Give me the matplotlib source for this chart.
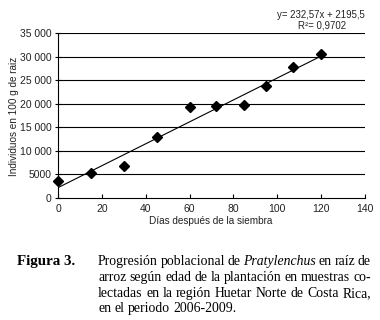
import matplotlib
matplotlib.use("Agg")
import matplotlib.pyplot as plt
import numpy as np

# ── datos ──────────────────────────────────────────────────────────────
dias = [0, 15, 30, 45, 60, 72, 85, 95, 107, 120]
individuos = [3650, 5250, 6800, 13000, 19250, 19450, 19650, 23800, 27750, 30650]
pendiente = 232.57
intercepto = 2195.5
r2 = "0,9702"

y_ticks = [0, 5000, 10000, 15000, 20000, 25000, 30000, 35000]
y_tick_labels = ["0", "5000", "10 000", "15 000", "20 000", "25 000", "30 000", "35 000"]
x_ticks = [0, 20, 40, 60, 80, 100, 120, 140]

caption_lines = [
    [("Progresión", ""), ("poblacional", ""), ("de", ""), ("Pratylenchus", "italic"),
     ("en", ""), ("raíz", ""), ("de", "")],
    [("arroz", ""), ("según", ""), ("edad", ""), ("de", ""), ("la", ""),
     ("plantación", ""), ("en", ""), ("muestras", ""), ("co-", "")],
    [("lectadas", ""), ("en", ""), ("la", ""), ("región", ""), ("Huetar", ""),
     ("Norte", ""), ("de", ""), ("Costa", ""), ("Rica,", "")],
    [("en", ""), ("el", ""), ("periodo", ""), ("2006-2009.", "")],
]

W, H = 380, 320
SANS = "Liberation Sans"
SERIF = "Liberation Serif"
TXT = "#222222"

fig = plt.figure(figsize=(W / 100, H / 100), dpi=100)
ax = fig.add_axes([58 / W, 1 - 198 / H, (365 - 58) / W, (198 - 33) / H])

# líneas de cuadrícula horizontales
for yv in y_ticks[1:]:
    ax.axhline(yv, color="black", linewidth=0.8, zorder=1)

ax.plot(dias, individuos, linestyle="none", marker="D", markersize=4.6,
        color="black", zorder=3, clip_on=False)
xf = np.array([dias[0], dias[-1]])
ax.plot(xf, pendiente * xf + intercepto, color="black", linewidth=0.8, zorder=2)

ax.set_xlim(0, 140)
ax.set_ylim(0, 35000)
ax.set_xticks(x_ticks)
ax.set_xticklabels([str(t) for t in x_ticks], fontsize=7.5, family=SANS, color=TXT)
ax.set_yticks(y_ticks)
ax.set_yticklabels(y_tick_labels, fontsize=7.5, family=SANS, color=TXT)
ax.tick_params(axis="x", direction="in", length=3, width=0.8, pad=4)
ax.tick_params(axis="y", direction="inout", length=5, width=0.8, pad=2)
for s in ("top", "right"):
    ax.spines[s].set_visible(False)
for s in ("left", "bottom"):
    ax.spines[s].set_linewidth(0.8)

fig.text(211 / W, 1 - 221 / H, "Días después de la siembra", ha="center", va="center",
         fontsize=7.2, family=SANS, color=TXT)
fig.text(14 / W, 1 - 116 / H, "Individuos en 100 g de raiz", ha="center", va="center",
         rotation=90, fontsize=7.2, family=SANS, color=TXT)

fig.text(321 / W, 1 - 15 / H, f"y= {pendiente:.2f}x + {intercepto:.1f}".replace(".", ","),
         ha="center", va="center", fontsize=6.9, family=SANS, color=TXT)
fig.text(322 / W, 1 - 25 / H, f"R²= {r2}", ha="center", va="center",
         fontsize=6.9, family=SANS, color=TXT)

# ── pie de figura (justificado) ────────────────────────────────────────
CAP_SIZE = 9.9
line_base = [265, 281, 297, 312]
fig.text(17 / W, 1 - line_base[0] / H, "Figura 3.", ha="left", va="baseline",
         fontsize=10.8, family=SERIF, weight="bold")

left_px, right_px = 98, 371
renderer = fig.canvas.get_renderer()
for i, words in enumerate(caption_lines):
    texts = []
    for w, style in words:
        t = fig.text(0, 1 - line_base[i] / H, w, ha="left", va="baseline",
                     fontsize=CAP_SIZE, family=SERIF, style=style or "normal")
        texts.append(t)
    widths = [t.get_window_extent(renderer).width for t in texts]
    if i < len(caption_lines) - 1:
        gap = (right_px - left_px - sum(widths)) / (len(words) - 1)
    else:
        gap = CAP_SIZE * 0.35
    x = left_px
    for t, wd in zip(texts, widths):
        t.set_x(x / W)
        x += wd + gap

fig.savefig("out.png", dpi=100)
